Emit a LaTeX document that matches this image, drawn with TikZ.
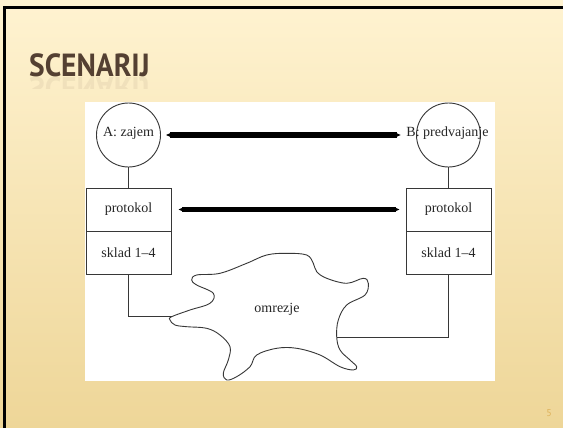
\documentclass[tikz,border=0pt]{standalone}
\usepackage{fontspec}
\setmainfont{Liberation Serif}
\newfontfamily\titlefont{PT Sans}
\usetikzlibrary{arrows.meta}
\definecolor{bgtop}{RGB}{255,243,209}
\definecolor{bgbot}{RGB}{238,214,152}
\definecolor{titlebrown}{RGB}{84,64,50}
\definecolor{numgold}{RGB}{222,178,90}
\definecolor{linegray}{RGB}{55,55,55}
\tikzset{
  diagtext/.style={font=\fontsize{14}{16}\selectfont, text=black!85},
  endcircle/.style={draw=linegray, line width=0.9pt, circle, minimum size=64pt, inner sep=0pt},
  layerbox/.style={draw=linegray, line width=0.9pt, rectangle, minimum width=85pt, minimum height=43pt, inner sep=0pt, diagtext},
  thinline/.style={draw=linegray, line width=0.9pt},
  bigarrow/.style={line width=5.5pt, black, {Latex[length=10pt,width=4pt]}-{Latex[length=10pt,width=4pt]}},
  blobline/.style={draw=linegray, line width=0.9pt, fill=white},
  titlestyle/.style={anchor=base west, inner sep=0pt, text=titlebrown, xscale=0.92, font=\titlefont\bfseries\fontsize{32}{35}\selectfont},
}
\begin{document}
\begin{tikzpicture}[x=1pt,y=-1pt]
\useasboundingbox (0,0) rectangle (563,428);
% slide background
\shade[top color=bgtop, bottom color=bgbot] (0,0) rectangle (563,428);
\fill[black] (3,6.5) rectangle (563,9);
\fill[black] (3,6.5) rectangle (5.5,428);
% title
\node[titlestyle] (title) at (29,77) {SCENARIJ};
\begin{scope}
\clip (0,77.5) rectangle (200,89);
\node[titlestyle, opacity=0.07, yscale=-1] (titlerefl) at (29,78) {SCENARIJ};
\end{scope}
% page number
\node[text=numgold, font=\titlefont\fontsize{10}{11}\selectfont] (pagenum) at (549,413) {5};
% white figure area
\fill[white] (85,102) rectangle (495,381);
% end systems
\node[endcircle] (Ac) at (128.5,135) {};
\node[diagtext, anchor=base, inner sep=0.5pt] (At) at (128.5,136.5) {A: zajem};
\node[endcircle] (Bc) at (448.5,135) {};
\node[diagtext, anchor=base, inner sep=0.5pt] (Bt) at (447.5,136.5) {B: predvajanje};
% layer boxes
\node[layerbox] (PA) at (128.5,209.5) {protokol};
\node[layerbox] (SA) at (128.5,252.5) {sklad 1--4};
\node[layerbox] (PB) at (448.5,209.5) {protokol};
\node[layerbox] (SB) at (448.5,252.5) {sklad 1--4};
\draw[thinline] (Ac.south) -- (PA.north);
\draw[thinline] (Bc.south) -- (PB.north);
% thick arrows
\draw[bigarrow] (Ac.east) -- (Ac.east -| Bt.west);
\draw[bigarrow] ([xshift=2pt]PA.east) -- ([xshift=-1pt]PB.west);
% network cloud
\draw[blobline] plot[smooth cycle, tension=0.6] coordinates {
 (171.7,316.7) (190,310) (210,303.3) (213.3,293.3) (196.7,285) (191.7,280)
 (196.7,275) (220,273.3) (246.7,263.3) (266.7,255) (286.7,253.3) (306.7,255)
 (313.3,263.3) (316.7,271.7) (326.7,278.3) (346.7,283.3) (363.3,278.3) (368.3,283.3)
 (365,295) (346.7,305) (338.3,320) (336.7,336.7) (340,350) (350,360)
 (356.7,366.7) (353.3,370) (340,366.7) (320,355) (296.7,348.3) (276.7,348.3)
 (256.7,355) (250,366.7) (236.7,376.7) (226.7,380) (223.3,373.3) (228.3,360)
 (230,346.7) (220,335) (206.7,328.3) (186.7,326.7) (175,325) (170,320)};
\node[diagtext] (net) at (277,309) {omrezje};
\coordinate (netL) at (171.5,316);
\coordinate (netR) at (336.8,337);
\draw[thinline] (SA.south) |- (netL);
\draw[thinline] (SB.south) |- (netR);
\end{tikzpicture}
\end{document}
